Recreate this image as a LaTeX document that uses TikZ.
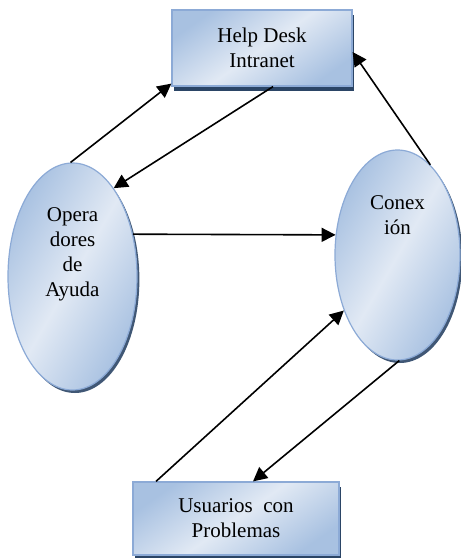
\documentclass[tikz,border=0pt]{standalone}
\usepackage{fontspec}
\setmainfont{Liberation Serif}
\usepackage{xcolor}
\usepackage{tikz}
\usetikzlibrary{arrows.meta,shapes,shadows,positioning,calc}
\definecolor{azulclaro}{HTML}{E1E9F4}
\definecolor{azulmedio}{HTML}{A8C1E1}
\definecolor{borde}{HTML}{8CAAD6}
\definecolor{sombra}{HTML}{2B4566}

\begin{document}
\begin{tikzpicture}[
			x = 0.5pt, y = -0.5pt,
			every node/.style = {font = \fontsize{10.5}{12.5}\selectfont, align = center},
			caja/.style = {rectangle, draw = borde, line width = 0.6pt, inner sep = 0pt,
				left color = azulmedio, right color = azulmedio, middle color = azulclaro, shading angle = 35,
				drop shadow = {shadow xshift = 1.2pt, shadow yshift = -2.5pt, fill = sombra, opacity = 1}},
			elipse/.style = {ellipse, draw = borde, line width = 0.6pt, inner sep = 0pt,
				left color = azulmedio, right color = azulmedio, middle color = azulclaro, shading angle = 60,
				drop shadow = {shadow xshift = 1.2pt, shadow yshift = -1.5pt, fill = sombra, opacity = 0.9}},
			flecha/.style = {-{Triangle[length = 7pt, width = 7pt]}, line width = 0.8pt}
			]

			\useasboundingbox (0,0) rectangle (461,558);

			\node[caja, minimum width = 90pt, minimum height = 38pt] (hd) at (262,48) {Help Desk\\Intranet};
			\node[caja, minimum width = 103pt, minimum height = 36.5pt] (usu) at (236,518.5) {Usuarios~ con\\Problemas};
			\node[elipse, minimum width = 64.5pt, minimum height = 113.5pt] (oper) at (72.5,276.5) {};
			\node[elipse, minimum width = 62.5pt, minimum height = 105pt] (conex) at (397.5,255) {};
			\node (oper-txt) at ([yshift = 11pt]oper.center) {Opera\\dores\\de\\Ayuda};
			\node (conex-txt) at ([yshift = 20pt]conex.center) {Conex\\ión};

			\draw[flecha] (oper.91) -- ([yshift = 1.5pt]hd.south west);
			\draw[flecha] ([xshift = 5.5pt]hd.south) -- (oper.65);
			\draw[flecha] (oper.35) -- (conex.162);
			\draw[flecha] (conex.70) -- ([yshift = -2pt]hd.east);
			\draw[flecha] ([xshift = -40pt]usu.north) -- (conex.226);
			\draw[flecha] (conex.-89) -- ([xshift = 8.5pt]usu.north);

		\end{tikzpicture}
\end{document}
